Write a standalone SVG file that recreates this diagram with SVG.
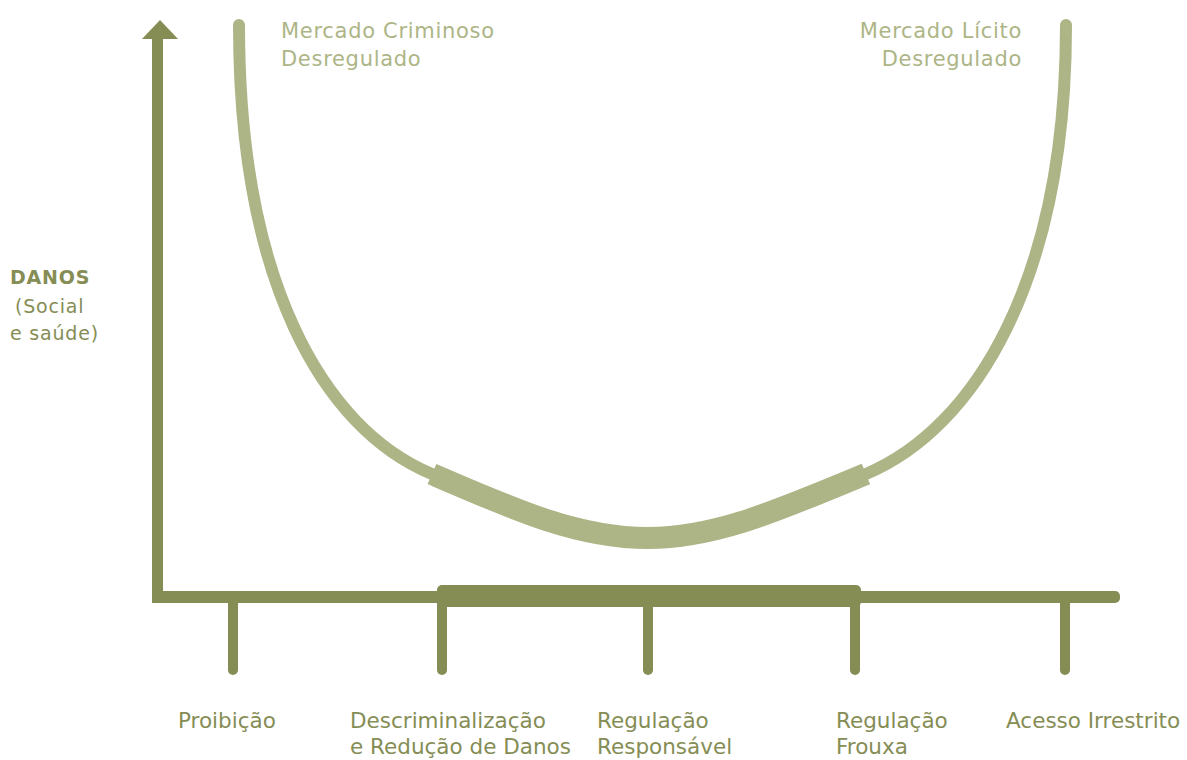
<svg xmlns="http://www.w3.org/2000/svg" width="1187" height="760" viewBox="0 0 1187 760">
<style>
.curve{stroke:#adb586;fill:none;stroke-linecap:round}
.band{stroke:#adb586;fill:none;stroke-linecap:butt}
.tick{stroke:#858d55;fill:none;stroke-linecap:round;stroke-width:10}
.lbl{font-family:"DejaVu Sans",sans-serif;font-size:21.5px;fill:#858d55}
.top{font-family:"DejaVu Sans",sans-serif;font-size:21px;letter-spacing:0.7px;fill:#adb586}
.side{font-family:"DejaVu Sans",sans-serif;font-size:19px;letter-spacing:0.8px;fill:#858d55}
</style>
<rect width="1187" height="760" fill="#ffffff"/>
<g id="connectors">
<path class="curve" stroke-width="12" d="M239,25 C239,280 322,428 432,474 C515,510 578,538 648,538 C718,538 783,508 866,474 C975,428 1066,280 1066,25"/>
<path class="band" stroke-width="22" d="M432,474 C515,510 578,538 648,538 C718,538 783,508 866,474"/>
</g>
<g id="y-axis">
<rect x="152" y="36" width="11" height="567" fill="#858d55"/>
<polygon points="160,20 142,39 178,39" fill="#858d55"/>
</g>
<g id="x-axis">
<rect x="152" y="591" width="968" height="12" rx="5" fill="#858d55"/>
<rect x="437" y="585" width="424" height="22" rx="5" fill="#858d55"/>
<line class="tick" x1="233" y1="600" x2="233" y2="670"/>
<line class="tick" x1="442" y1="600" x2="442" y2="670"/>
<line class="tick" x1="648" y1="600" x2="648" y2="670"/>
<line class="tick" x1="855" y1="600" x2="855" y2="670"/>
<line class="tick" x1="1065" y1="600" x2="1065" y2="670"/>
</g>
<g id="label-top-left">
<text class="top" x="281" y="38">Mercado Criminoso</text>
<text class="top" x="281" y="66">Desregulado</text>
</g>
<g id="label-top-right">
<text class="top" x="1022" y="38" text-anchor="end">Mercado Lícito</text>
<text class="top" x="1022" y="66" text-anchor="end">Desregulado</text>
</g>
<g id="label-danos">
<text class="side" x="10" y="284" font-weight="bold" letter-spacing="0">DANOS</text>
<text class="side" x="15" y="313">(Social</text>
<text class="side" x="10" y="340">e saúde)</text>
</g>
<g id="tick-proibicao"><text class="lbl" x="178" y="728">Proibição</text></g>
<g id="tick-descrim">
<text class="lbl" x="350" y="728">Descriminalização</text>
<text class="lbl" x="350" y="754">e Redução de Danos</text>
</g>
<g id="tick-responsavel">
<text class="lbl" x="597" y="728">Regulação</text>
<text class="lbl" x="597" y="754">Responsável</text>
</g>
<g id="tick-frouxa">
<text class="lbl" x="836" y="728">Regulação</text>
<text class="lbl" x="836" y="754">Frouxa</text>
</g>
<g id="tick-acesso"><text class="lbl" x="1006" y="728">Acesso Irrestrito</text></g>
</svg>
